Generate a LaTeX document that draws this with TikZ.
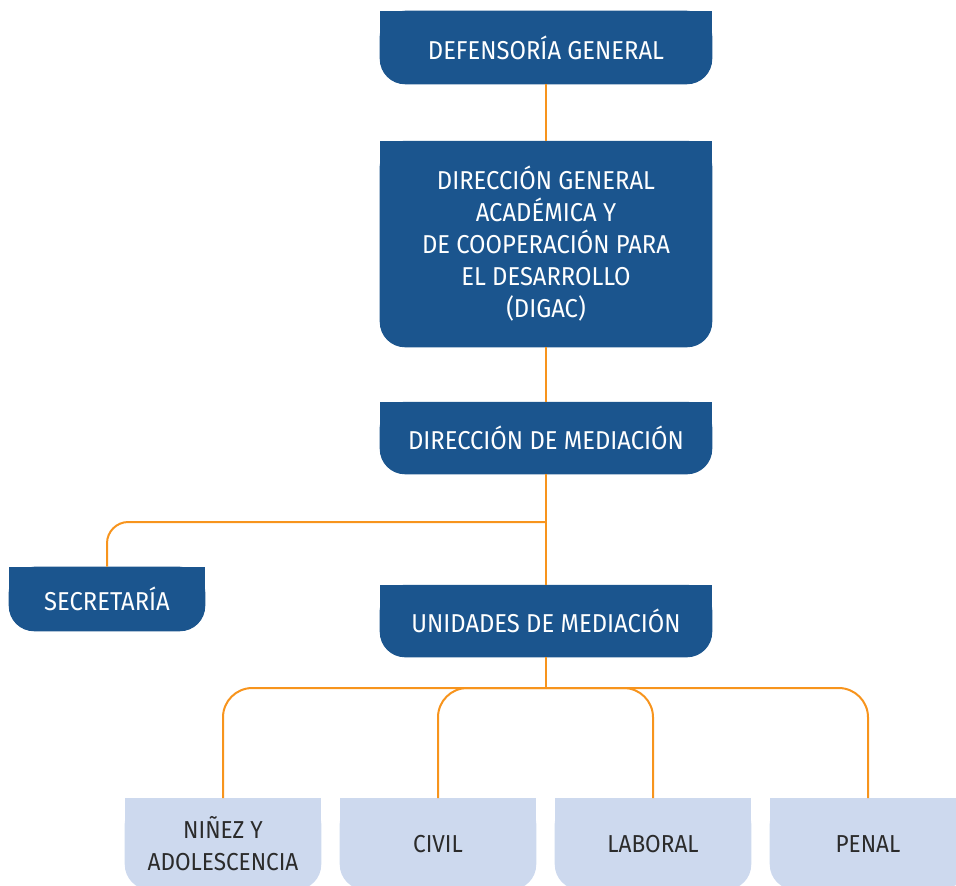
\documentclass[tikz,border=0pt]{standalone}
\usepackage{fontspec}
\setmainfont{Fira Sans}[FakeStretch=0.92]
\usetikzlibrary{backgrounds}

\definecolor{orgblue}{HTML}{1B558E}
\definecolor{orglight}{HTML}{CDD9EE}
\definecolor{orgline}{HTML}{F7941D}
\definecolor{orgtext}{HTML}{2B2B2B}

\begin{document}
\begin{tikzpicture}[x=0.75pt,y=-0.75pt,inner sep=0pt,align=center,
                    unit/.style={text=white,minimum width=249pt,minimum height=54pt,
                                 font=\fontsize{19.4}{24}\selectfont},
                    area/.style={text=orgtext,minimum width=147pt,minimum height=68.25pt,
                                 font=\fontsize{18.4}{24}\selectfont},
                    link/.style={orgline,line width=1.5pt}]

  \useasboundingbox (0,0) rectangle (956,885);

  \node[unit,minimum height=54.75pt]                               (def)   at (546,47.5) {DEFENSORÍA GENERAL};
  \node[unit,minimum height=154.5pt,below of=def,node distance=147.4pt]   (digac) {DIRECCIÓN GENERAL\\ACADÉMICA Y\\DE COOPERACIÓN PARA\\EL DESARROLLO\\(DIGAC)};
  \node[unit,below of=digac,node distance=145.5pt]                 (dm)    {DIRECCIÓN DE MEDIACIÓN};
  \node[unit,below of=dm,node distance=137.25pt]                   (um)    {UNIDADES DE MEDIACIÓN};
  \node[unit,minimum width=147pt,minimum height=48pt]              (sec)   at (107,599) {SECRETARÍA};

  \node[area]                                          (nin) at (223,844) {NIÑEZ Y\\ADOLESCENCIA};
  \node[area,right of=nin,node distance=161.25pt]      (civ) {CIVIL};
  \node[area,right of=civ,node distance=161.25pt]      (lab) {LABORAL};
  \node[area,right of=lab,node distance=161.25pt]      (pen) {PENAL};

  \coordinate (bus1) at (546,522);
  \coordinate (bus2) at (546,688);

  % box fills: flat top, rounded bottom
  \begin{scope}[on background layer]
    \foreach \n/\c in {def/orgblue,digac/orgblue,dm/orgblue,um/orgblue,sec/orgblue,
                       nin/orglight,civ/orglight,lab/orglight,pen/orglight}{
      \fill[\c,rounded corners=19pt] (\n.north west) rectangle (\n.south east);
      \fill[\c] (\n.north west) rectangle (\n.east);
    }
  \end{scope}

  \draw[link] (def) -- (digac);
  \draw[link] (digac) -- (dm);
  \draw[link] (dm) -- (um);
  \draw[link,rounded corners=16pt] (bus1) -| (sec);
  \draw[link] (um) -- (bus2);
  \foreach \k in {nin,civ,lab,pen}
    \draw[link,rounded corners=22pt] (bus2) -| (\k);
\end{tikzpicture}
\end{document}
